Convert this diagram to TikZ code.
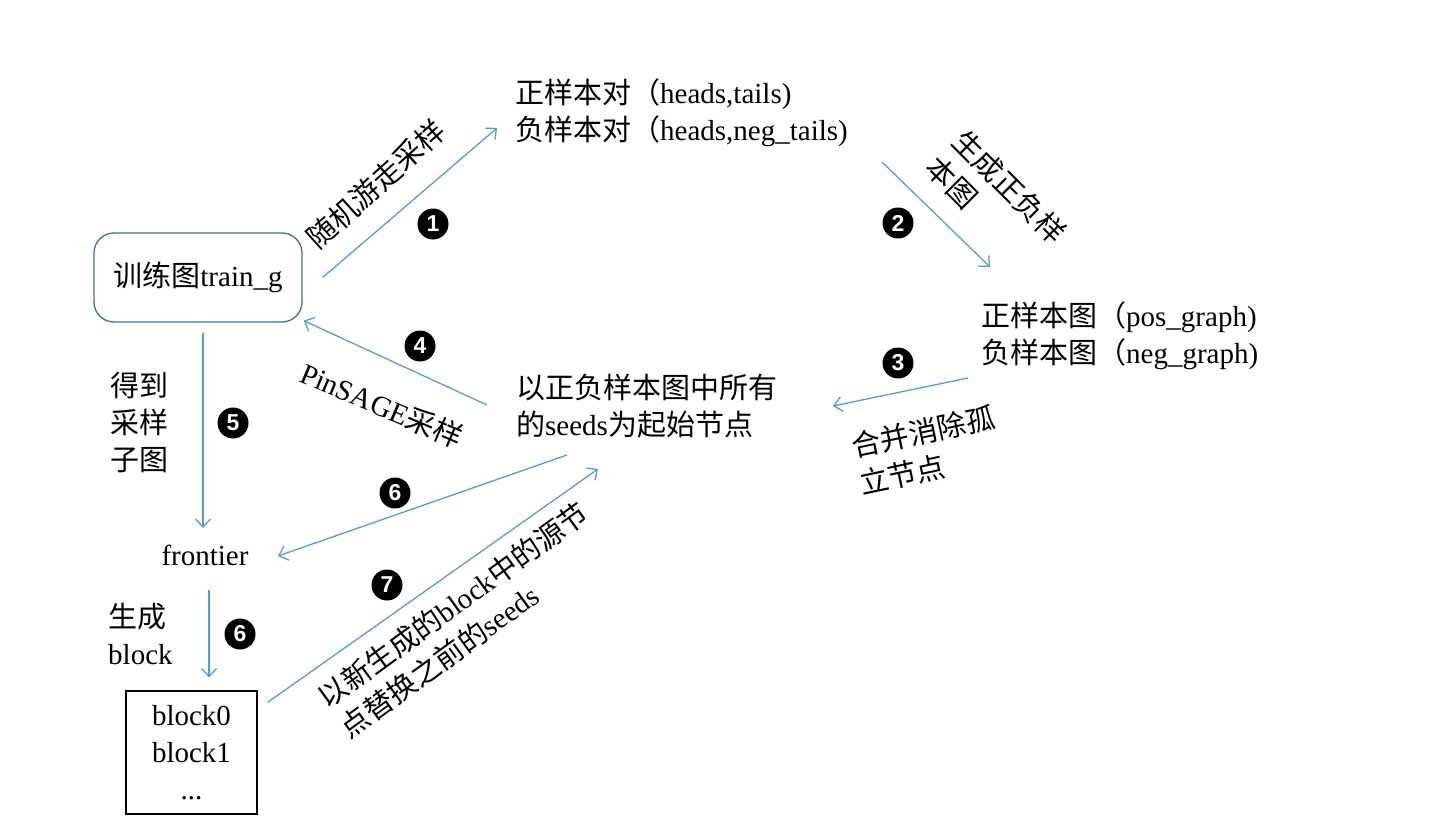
\documentclass[tikz,border=0pt]{standalone}
\usepackage{fontspec}
\setmainfont{Liberation Serif}
\newfontfamily\cjk{Noto Sans CJK SC}
\newfontfamily\numfont{Liberation Sans}
\usetikzlibrary{arrows.meta,calc}
\definecolor{arrowblue}{HTML}{5B9BD5}
\definecolor{boxblue}{HTML}{41719C}
\newcommand\zh[1]{{\cjk #1}}
\begin{document}
\begin{tikzpicture}[x=1pt,y=-1pt,
  lbl/.style={inner sep=0pt, font=\fontsize{29}{37}\selectfont},
  arr/.style={draw=arrowblue, line width=1.3pt, -{Straight Barb[length=8pt,width=15pt]}},
  num/.style={circle, fill=black, text=white, inner sep=0pt, minimum size=31pt, font=\numfont\bfseries\fontsize{23}{23}\selectfont}]
\useasboundingbox[fill=white] (0,0) rectangle (1440,832);

% main nodes
\node[lbl, draw=boxblue, line width=1.3pt, rounded corners=20pt, minimum width=208pt, minimum height=89pt] (train) at (198,277.5) {\zh{训练图}train\_g};
\node[lbl, anchor=west, align=left] (pairs) at (515,113) {\zh{正样本对（}heads,tails)\\\zh{负样本对（}heads,neg\_tails)};
\node[lbl, anchor=west, align=left] (graphs) at (981,336) {\zh{正样本图（}pos\_graph)\\\zh{负样本图（}neg\_graph)};
\node[lbl, anchor=west, align=left] (seeds) at (516,406) {\zh{以正负样本图中所有}\\\zh{的}seeds\zh{为起始节点}};
\node[lbl] (frontier) at (205,555) {frontier};
\node[lbl, draw=black, line width=1.2pt, minimum width=131pt, minimum height=123pt, align=center] (blocks) at (191.5,752.5) {block0\\block1\\...};

% connectors
\draw[arr] ($(train.east)+(20,0)$) -- ($(pairs.west)+(-18,15)$);
\draw[arr] ($(pairs.west)+(367,49)$) -- ($(graphs.west)+(9,-69)$);
\draw[arr] ($(graphs.west)+(-13,42)$) -- ($(seeds.west)+(317,0)$);
\draw[arr] ($(seeds.west)+(-29,-1)$) -- ($(train.south east)+(1,-2)$);
\draw[arr] ($(train.south)+(5,10)$) -- ($(frontier.center)+(-2,-27)$);
\draw[arr] ($(seeds.west)+(51,49)$) -- ($(frontier.center)+(73,1)$);
\draw[arr] ($(frontier.center)+(4,35)$) -- ($(blocks.north)+(17.5,-13)$);
\draw[arr] ($(blocks.north east)+(10,12)$) -- ($(seeds.west)+(82,63)$);

% edge labels
\node[lbl, rotate=42] (l1) at (376,184) {\zh{随机游走采样}};
\node[lbl, rotate=-45, align=left] (l2) at (996,200) {\zh{生成正负样}\\\zh{本图}};
\node[lbl, rotate=12, align=left] (l3) at (927,450) {\zh{合并消除孤}\\\zh{立节点}};
\node[lbl, rotate=-23] (l4) at (382,405) {PinSAGE\zh{采样}};
\node[lbl, anchor=west, align=left] (l5) at (110,423) {\zh{得到}\\\zh{采样}\\\zh{子图}};
\node[lbl, anchor=west, align=left] (l6) at (108,634) {\zh{生成}\\block};
\node[lbl, rotate=36, align=left] (l7) at (464,620) {\zh{以新生成的}block\zh{中的源节}\\\zh{点替换之前的}seeds};

% step numbers
\node[num] (n1) at (433,224) {1};
\node[num] (n2) at (898,223) {2};
\node[num] (n3) at (898,363) {3};
\node[num] (n4) at (420,346) {4};
\node[num] (n5) at (233,423) {5};
\node[num] (n6a) at (395,493) {6};
\node[num] (n6b) at (240,634) {6};
\node[num] (n7) at (387,585) {7};
\end{tikzpicture}
\end{document}
